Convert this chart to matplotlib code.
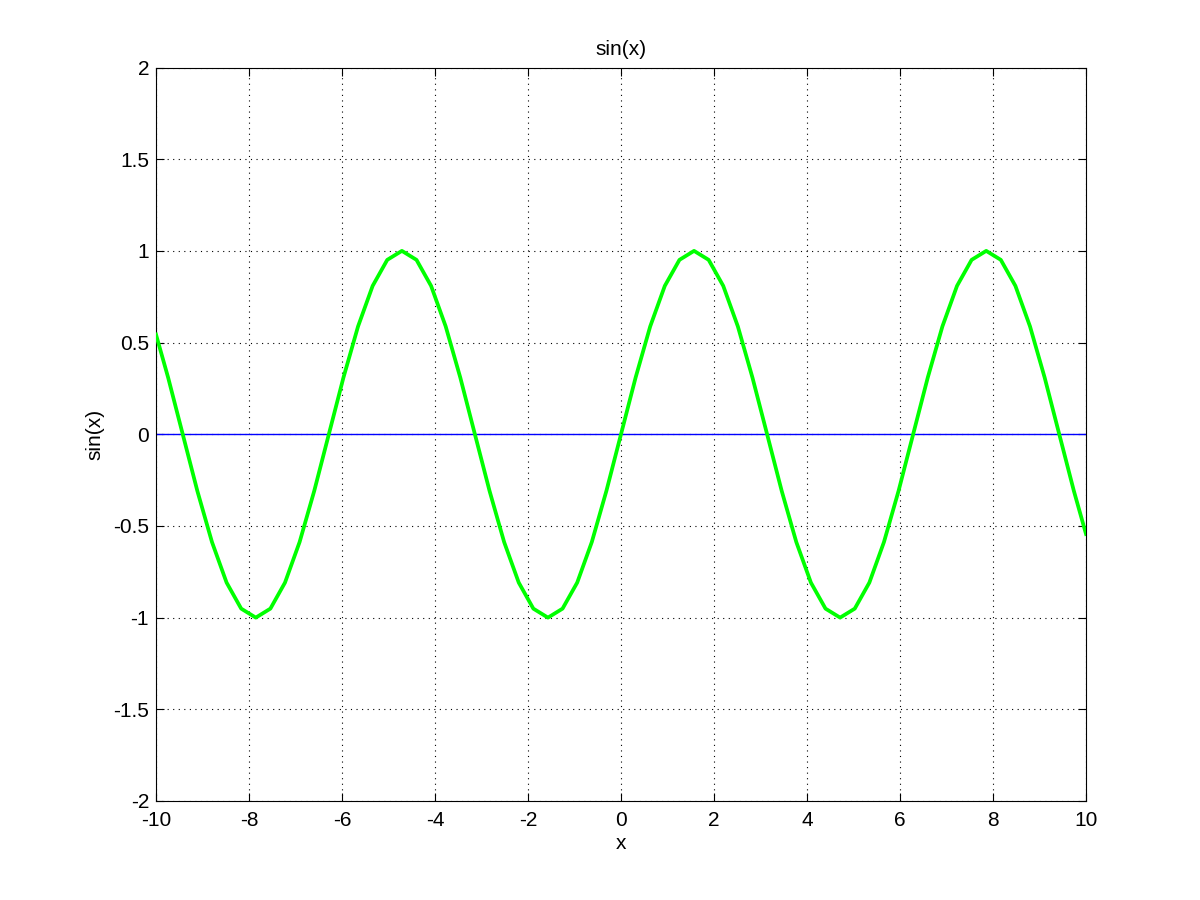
import matplotlib
matplotlib.use('Agg')
import matplotlib.pyplot as plt

plt.rcParams['font.family'] = ['Liberation Sans', 'DejaVu Sans']

# samples (grid of pi/10 plus the two ends)
x_vals = [-10.0, -9.739, -9.425, -9.111, -8.796, -8.482, -8.168, -7.854, -7.540,
          -7.226, -6.912, -6.597, -6.283, -5.969, -5.655, -5.341, -5.027, -4.712,
          -4.398, -4.084, -3.770, -3.456, -3.142, -2.827, -2.513, -2.199, -1.885,
          -1.571, -1.257, -0.942, -0.628, -0.314, 0.0, 0.314, 0.628, 0.942, 1.257,
          1.571, 1.885, 2.199, 2.513, 2.827, 3.142, 3.456, 3.770, 4.084, 4.398,
          4.712, 5.027, 5.341, 5.655, 5.969, 6.283, 6.597, 6.912, 7.226, 7.540,
          7.854, 8.168, 8.482, 8.796, 9.111, 9.425, 9.739, 10.0]
y_vals = [0.544, 0.309, 0.0, -0.309, -0.588, -0.809, -0.951, -1.0, -0.951,
          -0.809, -0.588, -0.309, 0.0, 0.309, 0.588, 0.809, 0.951, 1.0,
          0.951, 0.809, 0.588, 0.309, 0.0, -0.309, -0.588, -0.809, -0.951,
          -1.0, -0.951, -0.809, -0.588, -0.309, 0.0, 0.309, 0.588, 0.809, 0.951,
          1.0, 0.951, 0.809, 0.588, 0.309, 0.0, -0.309, -0.588, -0.809, -0.951,
          -1.0, -0.951, -0.809, -0.588, -0.309, 0.0, 0.309, 0.588, 0.809, 0.951,
          1.0, 0.951, 0.809, 0.588, 0.309, 0.0, -0.309, -0.544]
x_ticks = [-10, -8, -6, -4, -2, 0, 2, 4, 6, 8, 10]
y_ticks = [-2, -1.5, -1, -0.5, 0, 0.5, 1, 1.5, 2]
y_labels = ['-2', '-1.5', '-1', '-0.5', '0', '0.5', '1', '1.5', '2']

fig = plt.figure(figsize=(12, 9), dpi=100)
ax = fig.add_axes([0.13, 0.11, 0.775, 0.815])

ax.plot(x_vals, y_vals, color='#00ff00', linewidth=2.7, zorder=3)
ax.axhline(0, color='blue', linewidth=1, zorder=2)

ax.set_xlim(-10, 10)
ax.set_ylim(-2, 2)
ax.set_xticks(x_ticks)
ax.set_xticklabels([str(t) for t in x_ticks])
ax.set_yticks(y_ticks)
ax.set_yticklabels(y_labels)
ax.tick_params(direction='in', top=True, right=True, labelsize=15, length=6)
ax.tick_params(axis='x', pad=7)
ax.tick_params(axis='y', pad=5)
ax.grid(True, color='black', linestyle=(0, (1, 4)), linewidth=0.8)

ax.set_title('sin(x)', fontsize=15, pad=9)
ax.set_xlabel('x', fontsize=15, labelpad=3)
ax.set_ylabel('sin(x)', fontsize=15, labelpad=6)

fig.savefig('out.png', dpi=100)
